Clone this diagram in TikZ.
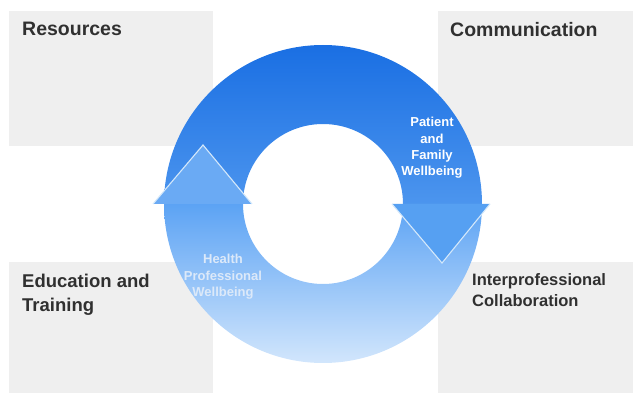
\documentclass[tikz,border=0pt]{standalone}
\usepackage{fontspec}
\setmainfont{Liberation Sans}
\usetikzlibrary{calc}

\definecolor{boxgray}{HTML}{EFEFEF}
\definecolor{titlegray}{HTML}{303030}
\definecolor{topblue}{HTML}{1A6FE3}
\definecolor{midblue}{HTML}{4C95EE}
\definecolor{lowblue}{HTML}{5CA3F4}
\definecolor{paleblue}{HTML}{D2E6FC}
\definecolor{headleft}{HTML}{6AAAF4}
\definecolor{headright}{HTML}{56A0F2}
\definecolor{rimblue}{HTML}{D4E8FA}
\definecolor{labelblue}{HTML}{DCE9F9}

\tikzset{
  panel/.style={fill=boxgray},
  title/.style={anchor=north west, inner sep=0pt, text=titlegray, align=left,
    font=\fontsize{19.5}{24}\selectfont\bfseries},
  ringlabel/.style={anchor=north, inner sep=0pt, align=center,
    font=\fontsize{13}{16.4}\selectfont\bfseries},
  rim/.style={draw=rimblue, line width=1.1pt, line join=miter}
}

\begin{document}
\begin{tikzpicture}[x=1pt,y=1pt]
	\useasboundingbox (0,0) rectangle (638,394);
	\coordinate (o) at (323,190);

	% grey panels
	\fill[panel] (9,248) rectangle (213,383);
	\fill[panel] (438,248) rectangle (633,383);
	\fill[panel] (9,1) rectangle (213,132);
	\fill[panel] (438,1) rectangle (633,132);

	\node[title] (res) at (22,372) {Resources};
	\node[title] (com) at (450,372) {Communication};
	\node[title, font=\fontsize{18.5}{24}\selectfont\bfseries] (edu) at (22,120.5) {Education and\\Training};
	\node[title, font=\fontsize{16.5}{20.5}\selectfont\bfseries] (ipc) at (472,120.5) {Interprofessional\\Collaboration};

	% the cycle
	\begin{scope}[shift={(o)}]
		\shade[top color=topblue, bottom color=midblue]
			(159,0) arc[start angle=0, end angle=180, radius=159]
			-- (-80,0) arc[start angle=180, end angle=0, radius=80] -- cycle;
		\shade[top color=lowblue, bottom color=paleblue]
			(-159,0) arc[start angle=180, end angle=360, radius=159]
			-- (80,0) arc[start angle=360, end angle=180, radius=80] -- cycle;
		% heads
		\coordinate (lt) at (-120,59);
		\coordinate (ll) at (-170,0);
		\coordinate (lr) at (-71,0);
		\fill[headleft] (ll) -- (lt) -- (lr) -- cycle;
		\draw[rim] (ll) -- (lt) -- (lr);
		\coordinate (rt) at (119,-59);
		\coordinate (rl) at (69,0);
		\coordinate (rr) at (167,0);
		\fill[headright] (rl) -- (rt) -- (rr) -- cycle;
		\draw[rim] (rl) -- (rt) -- (rr);
	\end{scope}

	\node[ringlabel, text=white] (pfw) at (432,277) {Patient\\and\\Family\\Wellbeing};
	\node[ringlabel, text=labelblue] (hpw) at (223,140) {Health\\Professional\\Wellbeing};
\end{tikzpicture}
\end{document}
